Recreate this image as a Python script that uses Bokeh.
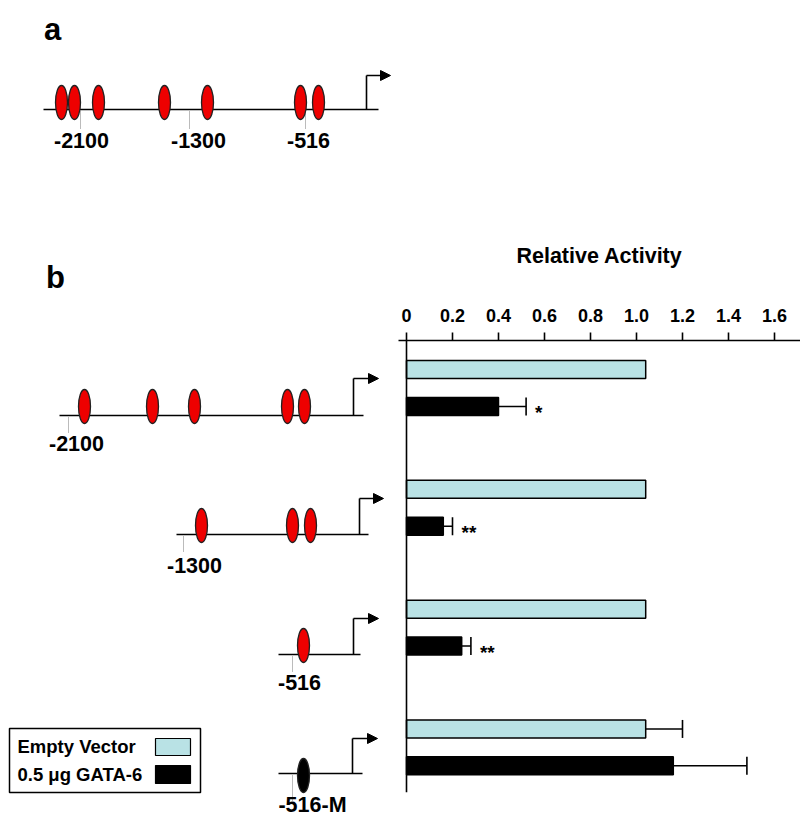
from bokeh.plotting import figure
from bokeh.layouts import row, column
from bokeh.models import (Range1d, FixedTicker, Span, Whisker, TeeHead,
                          ColumnDataSource, Arrow, NormalHead)
from bokeh.core.properties import value
from bokeh.embed import file_html
from bokeh.resources import INLINE

FONT = "Liberation Sans"
CYAN = "#b9e2e5"
RED = "#ee0000"

# ---------------- data ----------------
constructs = ["-2100", "-1300", "-516", "-516-M"]
empty_vector = [1.04, 1.04, 1.04, 1.04]
empty_vector_err = [0.0, 0.0, 0.0, 0.16]
gata6 = [0.40, 0.16, 0.24, 1.16]
gata6_err = [0.12, 0.04, 0.04, 0.32]
significance = ["*", "**", "**", ""]
x_ticks = [0, 0.2, 0.4, 0.6, 0.8, 1.0, 1.2, 1.4, 1.6]
x_tick_labels = ["0", "0.2", "0.4", "0.6", "0.8", "1.0", "1.2", "1.4", "1.6"]
legend_labels = ["Empty Vector", "0.5 \u03bcg GATA-6"]

# ---------------- left figure: schematics (page-pixel coordinates) ----------------
L = figure(width=398, height=821, x_range=Range1d(0, 398), y_range=Range1d(821, 0),
           output_backend="svg", toolbar_location=None, min_border=0,
           x_axis_location=None, y_axis_location=None, outline_line_color=None)
L.grid.visible = False


def label(fig, x, y, txt, size="21.5px", align="center", baseline="middle"):
    fig.text(x=[x], y=[y], text=[txt], text_font=value(FONT), text_font_style="bold",
             text_font_size=size, text_align=align, text_baseline=baseline, text_color="black")


def promoter(fig, line_y, x0, x1, sites, site_y, tss_x, tss_top, arrow_end,
             marks, mark_bottom, labels, label_y, site_color=RED):
    fig.segment(x0=[x0], y0=[line_y], x1=[x1], y1=[line_y], line_color="black", line_width=1.6)
    fig.segment(x0=[tss_x], y0=[line_y], x1=[tss_x], y1=[tss_top], line_color="black", line_width=1.6)
    fig.add_layout(Arrow(end=NormalHead(size=10, line_color="black", fill_color="black"),
                         x_start=tss_x, y_start=tss_top, x_end=arrow_end, y_end=tss_top,
                         line_color="black", line_width=1.6))
    for m in marks:
        fig.segment(x0=[m[0]], y0=[line_y + 2], x1=[m[0]], y1=[mark_bottom],
                    line_color="#777777", line_width=1, line_dash="1 1")
    fig.ellipse(x=sites, y=[site_y] * len(sites), width=12, height=34,
                fill_color=site_color, line_color="#222222", line_width=1.3)
    for m, txt in zip(marks, labels):
        label(fig, m[1], label_y, txt)


label(L, 52, 29, "a", size="31px", baseline="alphabetic")
label(L, 55, 277, "b", size="31px", baseline="alphabetic")

# panel a: full promoter
promoter(L, 109, 43, 378, [61, 74, 98, 164, 207, 300, 318], 102, 366, 75, 390,
         [(80, 81), (189, 198), (305, 308)], 128, ["-2100", "-1300", "-516"], 140)

# panel b constructs
promoter(L, 415, 59, 363, [84, 152, 194, 287, 304], 406, 353, 378, 378,
         [(68, 76)], 432, [constructs[0]], 443)
promoter(L, 534, 176, 368, [201, 292, 310], 525, 359, 498, 383,
         [(183, 194)], 552, [constructs[1]], 565)
promoter(L, 654, 278, 360, [303], 645, 353, 618, 378,
         [(292, 299)], 672, [constructs[2]], 682)
promoter(L, 773, 278, 362, [303], 775, 352, 738, 377,
         [(292, 312)], 800, [constructs[3]], 804, site_color="black")

# legend box
L.rect(x=[104.5], y=[760], width=191, height=64, fill_color="white",
       line_color="black", line_width=1.5)
L.rect(x=[172.5, 172.5], y=[746.5, 774], width=35, height=[17, 18],
       fill_color=[CYAN, "black"], line_color="black", line_width=1.2)
L.text(x=[17, 17], y=[746, 774], text=legend_labels, text_font=value(FONT),
       text_font_style="bold", text_font_size="18.5px", text_align="left",
       text_baseline="middle", text_color="black")

# ---------------- right figure: bar chart ----------------
PX_PER_UNIT = 230.0
GROUP_PX = 119.8
FRAME_H = 452
R = figure(width=402, height=821,
           x_range=Range1d(-8 / PX_PER_UNIT, 394 / PX_PER_UNIT),
           y_range=Range1d((FRAME_H - 47.5) / GROUP_PX, -47.5 / GROUP_PX),
           output_backend="svg", toolbar_location=None,
           x_axis_location="above", y_axis_location=None,
           min_border_left=0, min_border_right=0, min_border_top=340,
           min_border_bottom=821 - 340 - FRAME_H,
           outline_line_color=None)
R.grid.visible = False

ax = R.xaxis[0]
ax.ticker = FixedTicker(ticks=x_ticks)
ax.major_label_overrides = {t: s for t, s in zip(x_ticks, x_tick_labels)}
ax.axis_line_width = 1.6
ax.major_tick_line_width = 1.6
ax.major_tick_out = 8
ax.major_tick_in = 0
ax.minor_tick_line_color = None
ax.major_label_standoff = 11
ax.major_label_text_font = FONT
ax.major_label_text_font_style = "bold"
ax.major_label_text_font_size = "18px"
ax.major_label_text_color = "black"
ax.axis_label = "Relative Activity"
ax.axis_label_text_font = FONT
ax.axis_label_text_font_style = "bold"
ax.axis_label_text_font_size = "21.5px"
ax.axis_label_text_color = "black"
ax.axis_label_standoff = 38

R.add_layout(Span(location=0, dimension="height", line_color="black", line_width=1.6))

OFF = 0.154
BAR_H = 0.15
idx = list(range(len(constructs)))
src = ColumnDataSource(dict(
    y_ev=[i - OFF for i in idx], y_g=[i + OFF for i in idx],
    ev=empty_vector, g=gata6,
    ev_hi=[v + e for v, e in zip(empty_vector, empty_vector_err)],
    g_hi=[v + e for v, e in zip(gata6, gata6_err)],
    sig=significance,
))
R.hbar(y="y_ev", left=0, right="ev", height=BAR_H, fill_color=CYAN,
       line_color="black", line_width=1.5, source=src)
R.hbar(y="y_g", left=0, right="g", height=BAR_H, fill_color="black",
       line_color="black", line_width=1.5, source=src)

ev_err_src = ColumnDataSource(dict(
    y=[i - OFF for i, e in zip(idx, empty_vector_err) if e > 0],
    lo=[v for v, e in zip(empty_vector, empty_vector_err) if e > 0],
    hi=[v + e for v, e in zip(empty_vector, empty_vector_err) if e > 0]))
g_err_src = ColumnDataSource(dict(
    y=[i + OFF for i, e in zip(idx, gata6_err) if e > 0],
    lo=[v for v, e in zip(gata6, gata6_err) if e > 0],
    hi=[v + e for v, e in zip(gata6, gata6_err) if e > 0]))
for s in (ev_err_src, g_err_src):
    R.add_layout(Whisker(source=s, base="y", lower="lo", upper="hi", dimension="width",
                         lower_head=None,
                         upper_head=TeeHead(size=18, line_color="black", line_width=1.6),
                         line_color="black", line_width=1.5))

R.text(x="g_hi", y="y_g", text="sig", source=src, x_offset=9, y_offset=6,
       text_font=value(FONT), text_font_style="bold", text_font_size="19px",
       text_align="left", text_baseline="middle", text_color="black")

layout = row(column(L), column(R), spacing=0)
open("out.html", "w").write(file_html(layout, INLINE))
